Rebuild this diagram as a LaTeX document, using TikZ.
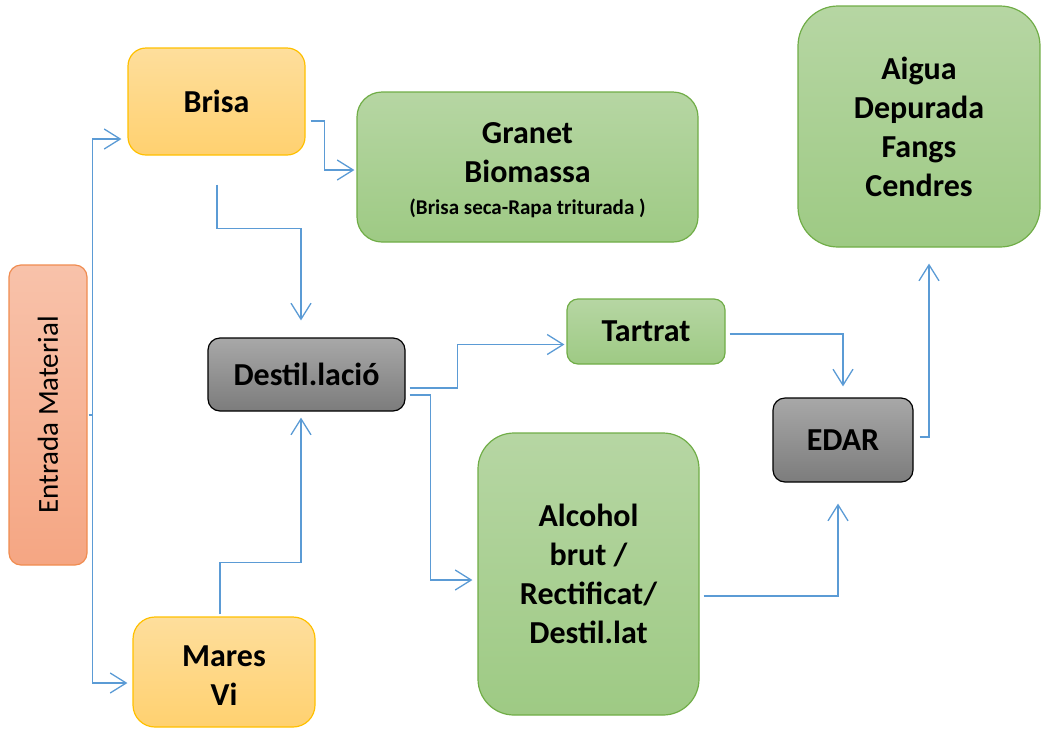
\documentclass[tikz,border=0pt]{standalone}
\usepackage{fontspec}
\setmainfont{Carlito}
\usepackage{tikz}
\usetikzlibrary{arrows.meta, positioning}
\definecolor{colorFlow}{RGB}{91,155,213}
\definecolor{colorYellowTop}{RGB}{254,222,156}
\definecolor{colorYellowBot}{RGB}{255,209,112}
\definecolor{colorYellowLine}{RGB}{255,192,0}
\definecolor{colorGreenTop}{RGB}{182,214,163}
\definecolor{colorGreenBot}{RGB}{158,202,132}
\definecolor{colorGreenLine}{RGB}{112,173,71}
\definecolor{colorGrayTop}{RGB}{168,168,168}
\definecolor{colorGrayBot}{RGB}{124,124,124}
\definecolor{colorOrangeTop}{RGB}{248,194,170}
\definecolor{colorOrangeBot}{RGB}{245,166,131}
\definecolor{colorOrangeLine}{RGB}{240,140,80}
\tikzset{
  box/.style={rectangle, rounded corners=#1, align=center, inner sep=0pt, line width=1.2pt,
    font=\bfseries\fontsize{32}{39}\selectfont},
  box/.default=15pt,
  yellowbox/.style={box=#1, draw=colorYellowLine, top color=colorYellowTop, bottom color=colorYellowBot},
  greenbox/.style={box=#1, draw=colorGreenLine, top color=colorGreenTop, bottom color=colorGreenBot},
  graybox/.style={box=#1, draw=black, top color=colorGrayTop, bottom color=colorGrayBot},
  orangebox/.style={box=#1, draw=colorOrangeLine, top color=colorOrangeTop, bottom color=colorOrangeBot,
    font=\fontsize{29}{34}\selectfont},
  flow/.style={draw=colorFlow, line width=1.3pt},
}

\begin{document}
\begin{tikzpicture}[x=1pt, y=-1pt, >={Straight Barb[length=16pt, width=20pt]}]
\useasboundingbox (0,0) rectangle (1041,729);
% boxes
\node[orangebox=12pt, minimum width=78pt, minimum height=300pt] (entrada) at (48,415) {\rotatebox{90}{Entrada Material}};
\node[yellowbox=18pt, minimum width=177pt, minimum height=107pt] (brisa) at (216.5,101.5) {Brisa};
\node[yellowbox=22pt, minimum width=182pt, minimum height=110pt] (mares) at (224,672)
  {\begin{tabular}{@{}c@{}}\rule{0pt}{40pt}Mares\\Vi\end{tabular}};
\node[greenbox=25pt, minimum width=341pt, minimum height=150pt] (granet) at (527.5,167)
  {\\[-12pt]Granet\\Biomassa\\[-7pt]{\fontsize{21}{25}\selectfont (Brisa seca-Rapa triturada )}};
\node[greenbox=40pt, minimum width=242pt, minimum height=241pt] (aigua) at (919,126.5) {Aigua\\Depurada\\Fangs\\Cendres};
\node[graybox=12pt, minimum width=197pt, minimum height=73pt] (destil) at (306.5,374.5) {Destil.lació};
\node[greenbox=11pt, minimum width=158pt, minimum height=65pt] (tartrat) at (646,331.5) {Tartrat};
\node[graybox=12pt, minimum width=140pt, minimum height=84pt] (edar) at (843,440) {EDAR};
\node[greenbox=36pt, minimum width=221pt, minimum height=282pt] (alcohol) at (588.5,574) {Alcohol\\brut /\\Rectificat/\\Destil.lat};
% connectors
\draw[flow] ([xshift=1pt]entrada.east) -- ++(4,0) coordinate (split);
\draw[flow, ->] (split) |- ([shift={(-6,37.5)}]brisa.west);
\draw[flow, ->] (split) |- ([shift={(-5,11)}]mares.west);
\draw[flow, ->] ([shift={(5,19.5)}]brisa.east) -- ++(14,0) |- ([shift={(-2,3)}]granet.west);
\draw[flow, ->] ([shift={(0.5,29)}]brisa.south) -- ++(0,44) -| ([shift={(-5.5,-17)}]destil.north);
\draw[flow, ->] ([shift={(-4,-2)}]mares.north) -- ++(0,-52) -| ([shift={(-5.5,6)}]destil.south);
\draw[flow, ->] ([shift={(4,13.5)}]destil.east) -- ++(48,0) |- ([shift={(-2,13)}]tartrat.west);
\draw[flow, ->] ([shift={(4,20.5)}]destil.east) -- ++(21,0) |- ([shift={(-5,6)}]alcohol.west);
\draw[flow, ->] ([shift={(4,2.5)}]tartrat.east) -| ([shift={(0,-11)}]edar.north);
\draw[flow, ->] ([shift={(4,22)}]alcohol.east) -| ([shift={(-5,21)}]edar.south);
\draw[flow, ->] ([shift={(6,-3)}]edar.east) -| ([shift={(10,16)}]aigua.south);
\end{tikzpicture}
\end{document}
